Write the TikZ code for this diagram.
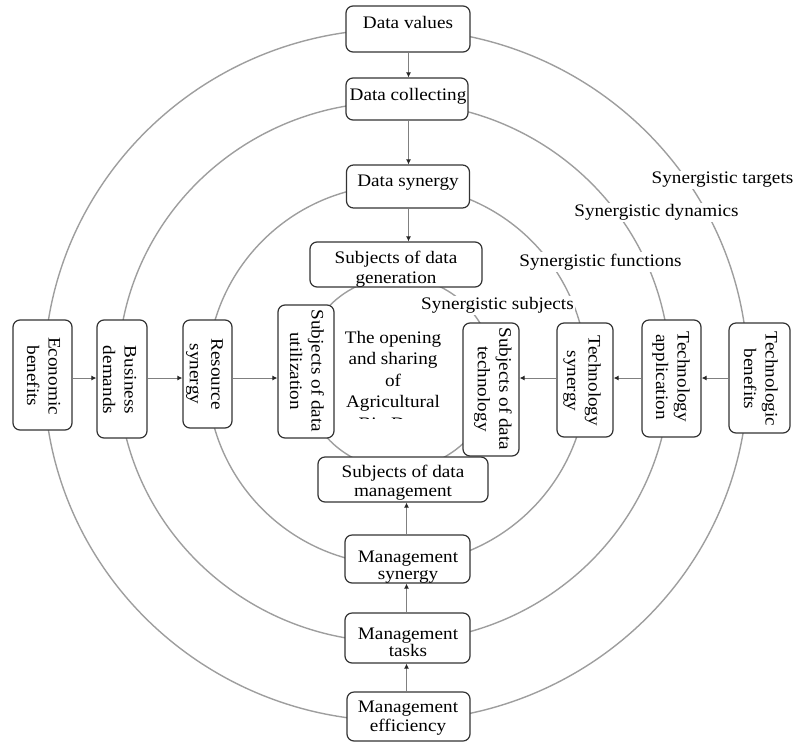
\documentclass[tikz,border=0pt]{standalone}
\usepackage{fontspec}
\setmainfont{Liberation Serif}[FakeStretch=1.09]
\usetikzlibrary{arrows.meta}
\begin{document}
\begin{tikzpicture}[x=1pt,y=-1pt,
  ring/.style={draw=black!38, line width=1.4pt},
  box/.style={draw=black!80, line width=1.2pt, fill=white, rounded corners=7pt, inner sep=0pt},
  txt/.style={font=\fontsize{17.6}{21}\selectfont, align=center, inner sep=0pt},
  vtxt/.style={txt, font=\fontsize{17.6}{21.5}\selectfont, rotate=-90},
  lab/.style={font=\fontsize{17.6}{21}\selectfont, fill=white, inner sep=1.5pt},
  link/.style={draw=black!50, line width=1pt, -{Latex[length=5pt,width=5pt,color=black!85]}}
]
\useasboundingbox (0,0) rectangle (797,742);

% concentric rings
\draw[ring] (396,375) ellipse [x radius=352, y radius=346];
\draw[ring] (394,372) ellipse [x radius=276, y radius=270];
\draw[ring] (397,375) ellipse [x radius=190, y radius=190];
\draw[ring] (398,373) circle [radius=96];

% top column
\node[box, minimum width=124pt, minimum height=46pt] (dv) at (408,29) {};
\node[txt] (dvt) at (408,22) {Data values};
\node[box, minimum width=122pt, minimum height=42pt] (dc) at (407,99) {};
\node[txt] (dct) at (408,96) {Data collecting};
\node[box, minimum width=123pt, minimum height=43pt] (ds) at (408,186.5) {};
\node[txt] (dst) at (408,183) {Data synergy};
\node[box, minimum width=172pt, minimum height=45pt] (sg) at (396,264.5) {};
\node[txt, font=\fontsize{17.6}{20}\selectfont] (sgt) at (396,269) {Subjects of data\\generation};

% bottom column
\node[box, minimum width=170pt, minimum height=45pt] (sm) at (403,479.5) {};
\node[txt, font=\fontsize{17.6}{19}\selectfont] (smt) at (403,482.5) {Subjects of data\\management};
\node[box, minimum width=125pt, minimum height=48pt] (msy) at (407.5,559) {};
\node[txt, font=\fontsize{17.6}{16.5}\selectfont] (msyt) at (408,567) {Management\\synergy};
\node[box, minimum width=125pt, minimum height=50pt] (mt) at (407.5,638) {};
\node[txt, font=\fontsize{17.6}{16}\selectfont] (mtt) at (408,642) {Management\\tasks};
\node[box, minimum width=123pt, minimum height=49pt] (me) at (408.5,716.5) {};
\node[txt, font=\fontsize{17.6}{19}\selectfont] (met) at (408,718.5) {Management\\efficiency};

% left row
\node[box, minimum width=59pt, minimum height=110pt] (eb) at (42.5,375) {};
\node[vtxt] (ebt) at (43.5,376) {Economic\\benefits};
\node[box, minimum width=50pt, minimum height=118pt] (bd) at (122,379) {};
\node[vtxt] (bdt) at (119.5,380) {Business\\demands};
\node[box, minimum width=49pt, minimum height=108pt] (rs) at (207.5,374) {};
\node[vtxt] (rst) at (204.5,374) {Resource\\synergy};
\node[box, minimum width=56pt, minimum height=133pt] (su) at (306,371.5) {};
\node[vtxt] (sut) at (307,371) {Subjects of data\\utilization};

% right row
\node[box, minimum width=56pt, minimum height=133pt] (st) at (491,389.5) {};
\node[vtxt] (stt) at (493,389) {Subjects of data\\technology};
\node[box, minimum width=56pt, minimum height=114pt] (tsy) at (585,380) {};
\node[vtxt] (tsyt) at (582,381) {Technology\\synergy};
\node[box, minimum width=59pt, minimum height=117pt] (ta) at (671.5,378.5) {};
\node[vtxt] (tat) at (671,377) {Technology\\application};
\node[box, minimum width=61pt, minimum height=110pt] (tb) at (759.5,378) {};
\node[vtxt] (tbt) at (761,379) {Technologic\\benefits};

% centre text (last line cut off)
\begin{scope}
  \clip (320,320) rectangle (465,418.5);
  \node[txt, font=\fontsize{17.6}{21.5}\selectfont] (ctr) at (393,382) {The opening\\and sharing\\of\\Agricultural\\Big Data};
\end{scope}

% connectors
\coordinate (hax) at (0,378);
\coordinate (vax) at (408.5,0);
\coordinate (vbx) at (406.5,0);
\draw[link] (dv.south -| vax) -- (dc.north -| vax);
\draw[link] (dc.south -| vax) -- (ds.north -| vax);
\draw[link] (ds.south -| vax) -- (sg.north -| vax);
\draw[link] (me.north -| vbx) -- (mt.south -| vbx);
\draw[link] (mt.north -| vbx) -- (msy.south -| vbx);
\draw[link] (msy.north -| vbx) -- (sm.south -| vbx);
\draw[link] (eb.east |- hax) -- (bd.west |- hax);
\draw[link] (bd.east |- hax) -- (rs.west |- hax);
\draw[link] (rs.east |- hax) -- (su.west |- hax);
\draw[link] (tb.west |- hax) -- (ta.east |- hax);
\draw[link] (ta.west |- hax) -- (tsy.east |- hax);
\draw[link] (tsy.west |- hax) -- (st.east |- hax);

% ring labels
\node[lab] (l1) at (722.5,180) {Synergistic targets};
\node[lab] (l2) at (656.5,212) {Synergistic dynamics};
\node[lab] (l3) at (600.5,262) {Synergistic functions};
\node[lab] (l4) at (497.5,305) {Synergistic subjects};
\end{tikzpicture}
\end{document}
